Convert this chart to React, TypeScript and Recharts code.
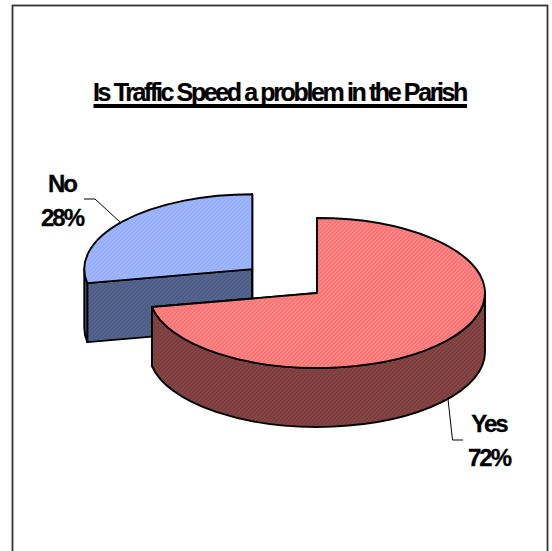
import { PieChart, Pie } from 'recharts'

const categories = ['No', 'Yes']
const shares = [28, 72]
const percentLabels = ['28%', '72%']
const titleText = 'Is Traffic Speed a problem in the Parish'

const chartData = categories.map((name, i) => ({ name, value: shares[i], percent: percentLabels[i] }))

// the pie is drawn flat by recharts, the custom shape tilts it
const SQUASH = 0.446
const DEPTH = 59
const EXPLODE: Record<string, number> = { No: 0.5, Yes: 0 }

const FACES: Record<string, { top: string; side: string }> = {
  No: { top: 'url(#blueTop)', side: 'url(#blueSide)' },
  Yes: { top: 'url(#redTop)', side: 'url(#redSide)' },
}

const rad = (deg: number) => (deg * Math.PI) / 180

function TiltedSlice(props: any) {
  const { cx, cy, outerRadius: r, startAngle, endAngle, midAngle, name } = props
  const rx = r
  const ry = r * SQUASH
  const explode = EXPLODE[name] ?? 0
  const ox = cx + rx * explode * Math.cos(rad(midAngle))
  const oy = cy - ry * explode * Math.sin(rad(midAngle))
  const pt = (a: number, dy = 0) => [ox + rx * Math.cos(rad(a)), oy - ry * Math.sin(rad(a)) + dy]

  const hi = Math.max(startAngle, endAngle)
  const lo = Math.min(startAngle, endAngle)
  const [sx, sy] = pt(hi)
  const [ex, ey] = pt(lo)
  const large = hi - lo > 180 ? 1 : 0
  const top = `M${ox},${oy} L${sx},${sy} A${rx},${ry} 0 ${large} 1 ${ex},${ey} Z`

  const cut = (a: number) => {
    const [x, y] = pt(a)
    return `M${ox},${oy} L${x},${y} L${x},${y + DEPTH} L${ox},${oy + DEPTH} Z`
  }

  // the outer wall is only seen on the front half of the ellipse (180..360 deg)
  const walls: string[] = []
  const addWall = (from: number, to: number) => {
    if (from <= to) return
    const [ax, ay] = pt(from)
    const [bx, by] = pt(to)
    walls.push(`M${ax},${ay} A${rx},${ry} 0 0 1 ${bx},${by} L${bx},${by + DEPTH} A${rx},${ry} 0 0 0 ${ax},${ay + DEPTH} Z`)
  }
  addWall(Math.min(hi, 0), Math.max(lo, -180))
  addWall(Math.min(hi, 360), Math.max(lo, 180))

  const line = { stroke: '#000', strokeWidth: 1.9, strokeLinejoin: 'round' as const }
  const face = FACES[name]
  return (
    <g>
      <path d={cut(hi)} fill={face.side} {...line} />
      <path d={cut(lo)} fill={face.side} {...line} />
      {walls.map((d) => (
        <path key={d} d={d} fill={face.side} {...line} />
      ))}
      <path d={top} fill={face.top} {...line} />
    </g>
  )
}

// label text and its leader line
const LABELS: Record<string, { x: number; y: number; leader: string }> = {
  No: { x: 62, y: 192, leader: '120,222 95,199 84,199' },
  Yes: { x: 489, y: 432, leader: '448,399 452.5,440 463,440' },
}

function SliceLabel(props: any) {
  const { name, percent } = props.payload
  const l = LABELS[name]
  const textStyle = {
    fontFamily: 'Liberation Sans',
    fontWeight: 700,
    fontSize: 24,
    letterSpacing: -2,
    fill: '#000',
    stroke: '#000',
    strokeWidth: 0.3,
  }
  return (
    <g>
      <polyline points={l.leader} fill="none" stroke="#000" strokeWidth={1} />
      <text x={l.x} y={l.y} textAnchor="middle" style={textStyle}>{name}</text>
      <text x={l.x} y={l.y + 34} textAnchor="middle" style={textStyle}>{percent}</text>
    </g>
  )
}

function Dither({ id, a, b }: { id: string; a: string; b: string }) {
  return (
    <pattern id={id} width={2.83} height={2.83} patternUnits="userSpaceOnUse" patternTransform="rotate(45)">
      <rect width={2.83} height={2.83} fill={a} />
      <rect width={1.41} height={2.83} fill={b} />
    </pattern>
  )
}

export default function App() {
  // No is listed first so Yes paints over it, Yes still starts at 12 o'clock
  const startAngle = 90 + (shares[0] / 100) * 360
  return (
    <div style={{ position: 'absolute', left: 0, top: 0, width: 552, height: 551, overflow: 'hidden', background: '#fff' }}>
      <PieChart width={552} height={551} margin={{ top: 0, right: 0, bottom: 0, left: 0 }}>
        <defs>
          <Dither id="redTop" a="#ff8a8a" b="#f57070" />
          <Dither id="redSide" a="#884848" b="#783a3a" />
          <Dither id="blueTop" a="#a4baff" b="#92acfa" />
          <Dither id="blueSide" a="#586890" b="#4a5a84" />
        </defs>
        <rect x={12.5} y={5.5} width={535} height={560} fill="none" stroke="#333" strokeWidth={1.8} />
        <text
          x={279.5}
          y={101}
          textAnchor="middle"
          style={{ fontFamily: 'Liberation Sans', fontWeight: 700, fontSize: 25, letterSpacing: -2.38, fill: '#000', stroke: '#000', strokeWidth: 0.2 }}
        >
          {titleText}
        </text>
        <line x1={93.5} y1={106} x2={467} y2={106} stroke="#000" strokeWidth={4} />
        <Pie
          data={chartData}
          dataKey="value"
          nameKey="name"
          cx={317}
          cy={293}
          outerRadius={168}
          startAngle={startAngle}
          endAngle={startAngle - 360}
          paddingAngle={0}
          stroke="none"
          isAnimationActive={false}
          shape={TiltedSlice}
          label={SliceLabel}
          labelLine={false}
        />
      </PieChart>
    </div>
  )
}
